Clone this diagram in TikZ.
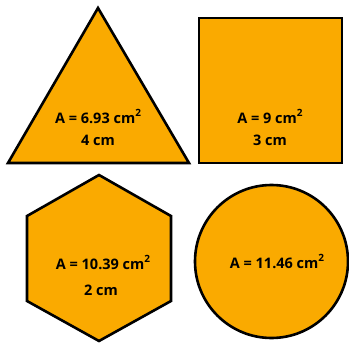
\documentclass[tikz,border=0pt]{standalone}
\usepackage{fontspec}
\setmainfont{Open Sans}
\definecolor{shapefill}{RGB}{250,170,0}
\newcommand{\sqsup}{\raisebox{0.45em}{\fontsize{10}{10}\selectfont 2}}
\begin{document}
\begin{tikzpicture}[x=1pt,y=-1pt,
  shp/.style={draw=black,fill=shapefill,line width=2.6pt,line join=miter},
  lbl/.style={font=\fontsize{14.5}{16}\selectfont\bfseries,inner sep=0pt,anchor=base}]
\useasboundingbox (0,0) rectangle (349,343);
% triangle
\draw[shp] (98,8) -- (189,163) -- (8,163) -- cycle;
% square
\draw[shp] (199,18) rectangle (342,163);
% hexagon
\draw[shp] (99,175) -- (171,216) -- (171,301) -- (99,341) -- (27,301) -- (27,216) -- cycle;
% circle
\draw[shp] (271.5,261.5) circle (76.5);
\node[lbl] (t1) at (98,123) {A = 6.93 cm\sqsup};
\node[lbl] (t2) at (98,145) {4 cm};
\node[lbl] (s1) at (270,123) {A = 9 cm\sqsup};
\node[lbl] (s2) at (270,145) {3 cm};
\node[lbl] (h1) at (103,269) {A = 10.39 cm\sqsup};
\node[lbl] (h2) at (101,295) {2 cm};
\node[lbl] (c1) at (277,268) {A = 11.46 cm\sqsup};
\end{tikzpicture}
\end{document}
